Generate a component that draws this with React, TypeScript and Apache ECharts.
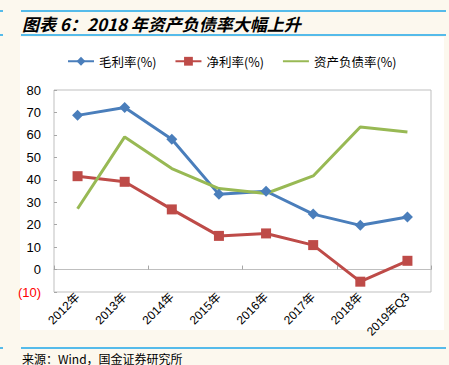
import React, { useEffect, useRef } from "react";
import * as echarts from "echarts";

const categories = ["2012年", "2013年", "2014年", "2015年", "2016年", "2017年", "2018年", "2019年Q3"];
const grossMargin = [68.7, 72.2, 58.1, 33.5, 34.9, 24.7, 19.7, 23.4];
const netMargin = [41.6, 39.1, 26.8, 15.0, 16.1, 10.9, -5.4, 3.9];
const debtRatio = [27.1, 59.1, 45.0, 36.1, 33.9, 41.7, 63.5, 61.3];
const seriesNames = ["毛利率(%)", "净利率(%)", "资产负债率(%)"];
const titleText = "图表 6：2018 年资产负债率大幅上升";
const sourceText = "来源：Wind，国金证券研究所";

const FONT = "'Liberation Sans', 'Noto Sans CJK SC', sans-serif";
const CJK = "'Noto Sans CJK SC', sans-serif";
const BLUE_RULE = "#1ea7e8";

export default function App() {
  const ref = useRef<HTMLDivElement>(null);
  useEffect(() => {
    document.body.style.margin = "0";
    const chart = echarts.init(ref.current!, null, { renderer: "svg" });
    const ruleLine = (x1: number, x2: number, y: number) => ({
      type: "line",
      shape: { x1, y1: y, x2, y2: y },
      style: { stroke: BLUE_RULE, lineWidth: 1.5 },
      silent: true,
    });
    chart.setOption({
      animation: false,
      backgroundColor: "#fcf8ee",
      graphic: [
        { type: "rect", z: -10, shape: { x: 20, y: 37, width: 424, height: 293 }, style: { fill: "#ffffff" }, silent: true },
        ruleLine(0, 3, 11),
        ruleLine(21, 446, 11),
        ruleLine(0, 3, 35),
        ruleLine(21, 446, 35),
        ruleLine(0, 3, 348),
        ruleLine(21, 446, 348),
        {
          type: "text",
          x: 22,
          y: 23,
          style: {
            text: titleText,
            fill: "#000",
            font: `italic bold 17px ${CJK}`,
            textVerticalAlign: "middle",
          },
        },
        {
          type: "text",
          x: 22,
          y: 358,
          style: {
            text: sourceText,
            fill: "#000",
            font: `12px ${CJK}`,
            textVerticalAlign: "middle",
          },
        },
      ],
      legend: {
        left: 62,
        top: 50,
        itemWidth: 26,
        itemHeight: 11,
        itemGap: 18,
        textStyle: { fontSize: 12.5, color: "#000", fontFamily: CJK },
        data: [
          { name: seriesNames[0] },
          { name: seriesNames[1] },
          { name: seriesNames[2], itemStyle: { opacity: 0 } },
        ],
      },
      grid: {
        left: 54,
        right: 18,
        top: 90,
        bottom: 73,
        show: true,
        borderColor: "#bfbfbf",
        borderWidth: 1,
        backgroundColor: "#ffffff",
      },
      xAxis: [
        {
          type: "category",
          data: categories,
          position: "bottom",
          boundaryGap: true,
          axisLine: { show: false, onZero: false },
          axisTick: { show: false },
          axisLabel: { rotate: 45, fontSize: 12, color: "#000", margin: 3, fontFamily: FONT, interval: 0 },
        },
        {
          type: "category",
          data: categories,
          position: "bottom",
          boundaryGap: true,
          axisLine: { show: true, onZero: true, lineStyle: { color: "#bfbfbf", width: 1 } },
          axisTick: { show: true, inside: true, length: 4, lineStyle: { color: "#a6a6a6" } },
          axisLabel: { show: false },
        },
      ],
      yAxis: {
        type: "value",
        min: -10,
        max: 80,
        interval: 10,
        axisLine: { show: false },
        axisTick: { show: true, inside: true, length: 3, lineStyle: { color: "#a6a6a6" } },
        splitLine: { show: false },
        axisLabel: {
          fontSize: 13,
          margin: 13,
          fontFamily: FONT,
          color: "#000",
          formatter: (v: number) => (v < 0 ? `{neg|(${Math.abs(v)})}` : `${v}`),
          rich: { neg: { color: "#ff0000", fontSize: 13, fontFamily: FONT } },
        },
      },
      series: [
        {
          name: seriesNames[0],
          type: "line",
          data: grossMargin,
          symbol: "diamond",
          symbolSize: 11,
          lineStyle: { color: "#4a7ebb", width: 3 },
          itemStyle: { color: "#4a7ebb" },
        },
        {
          name: seriesNames[1],
          type: "line",
          data: netMargin,
          symbol: "rect",
          symbolSize: 10,
          lineStyle: { color: "#be4b48", width: 3 },
          itemStyle: { color: "#be4b48" },
        },
        {
          name: seriesNames[2],
          type: "line",
          data: debtRatio,
          symbol: "none",
          lineStyle: { color: "#98b954", width: 3 },
          itemStyle: { color: "#98b954" },
        },
      ],
    });
    return () => chart.dispose();
  }, []);
  return <div ref={ref} style={{ width: 449, height: 365, position: "absolute", left: 0, top: 0 }} />;
}
